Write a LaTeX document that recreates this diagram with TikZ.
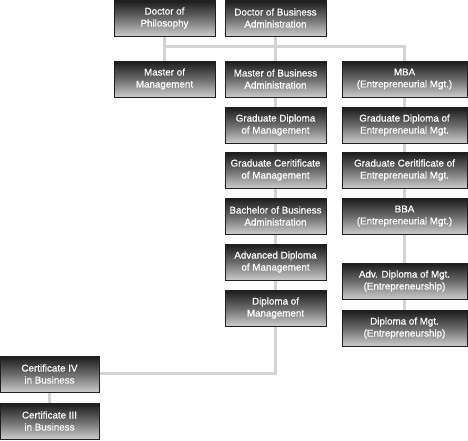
\documentclass[tikz,border=0pt]{standalone}
\usepackage{fontspec}
\setmainfont{Liberation Sans}
\newfontfamily\boxfont[BoldFont={Liberation Sans}, BoldFeatures={FakeBold=0.6}]{Liberation Sans}
\usetikzlibrary{backgrounds}
\begin{document}
\begin{tikzpicture}[x=1pt,y=-1pt,
  box/.style={draw=black!88, line width=0.8pt, top color=black!90, bottom color=black!20, middle color=black!58,
    minimum width=101pt, minimum height=36pt, inner sep=0pt, align=center, text=white,
    font=\boxfont\bfseries\fontsize{9.8}{12}\selectfont},
  wbox/.style={box, minimum width=125pt},
  link/.style={draw=black!17, line width=3.5pt}]
\useasboundingbox (0,0) rectangle (468,440);
\node[box] (phd) at (164.5,18) {Doctor of\\Philosophy};
\node[box] (dba) at (275.5,18) {Doctor of Business\\Administration};
\node[box] (mm) at (164.5,79) {Master of\\Management};
\node[box] (mba) at (275.5,79) {Master of Business\\Administration};
\node[wbox] (mbae) at (404.5,79) {MBA\\(Entrepreneurial Mgt.)};
\node[box] (gdm) at (275.5,125) {Graduate Diploma\\of Management};
\node[wbox] (gdme) at (404.5,125) {Graduate Diploma of\\Entrepreneurial Mgt.};
\node[box] (gcm) at (275.5,170) {Graduate Ceritificate\\of Management};
\node[wbox] (gcme) at (404.5,170) {Graduate Ceritificate of\\Entrepreneurial Mgt.};
\node[box] (bba) at (275.5,216) {Bachelor of Business\\Administration};
\node[wbox] (bbae) at (404.5,216) {BBA\\(Entrepreneurial Mgt.)};
\node[box] (adm) at (275.5,262) {Advanced Diploma\\of Management};
\node[box] (dm) at (275.5,308) {Diploma of\\Management};
\node[wbox] (adme) at (404.5,281) {Adv. Diploma of Mgt.\\(Entrepreneurship)};
\node[wbox] (dme) at (404.5,328) {Diploma of Mgt.\\(Entrepreneurship)};
\node[box, minimum width=99pt] (c4) at (49.5,374) {Certificate IV\\in Business};
\node[box, minimum width=99pt] (c3) at (49.5,421) {Certificate III\\in Business};
\coordinate (bar) at (0,46.5);
\coordinate (low) at (0,373.5);
\begin{scope}[on background layer]
\draw[link] (phd.south) -- (mm.north);
\draw[link] (dba.south) -- (mba.north);
\draw[link, line join=miter] (phd.south |- bar) -- (mbae.north |- bar) -- (mbae.north);
\draw[link] (mba.south) -- (gdm.north);
\draw[link] (gdm.south) -- (gcm.north);
\draw[link] (gcm.south) -- (bba.north);
\draw[link] (bba.south) -- (adm.north);
\draw[link] (adm.south) -- (dm.north);
\draw[link, line join=miter] (dm.south) -- (dm.south |- low) -- (c4.east |- low);
\draw[link] (c4.south) -- (c3.north);
\draw[link] (mbae.south) -- (gdme.north);
\draw[link] (gdme.south) -- (gcme.north);
\draw[link] (gcme.south) -- (bbae.north);
\draw[link] (bbae.south) -- (adme.north);
\draw[link] (adme.south) -- (dme.north);
\end{scope}
\end{tikzpicture}
\end{document}
